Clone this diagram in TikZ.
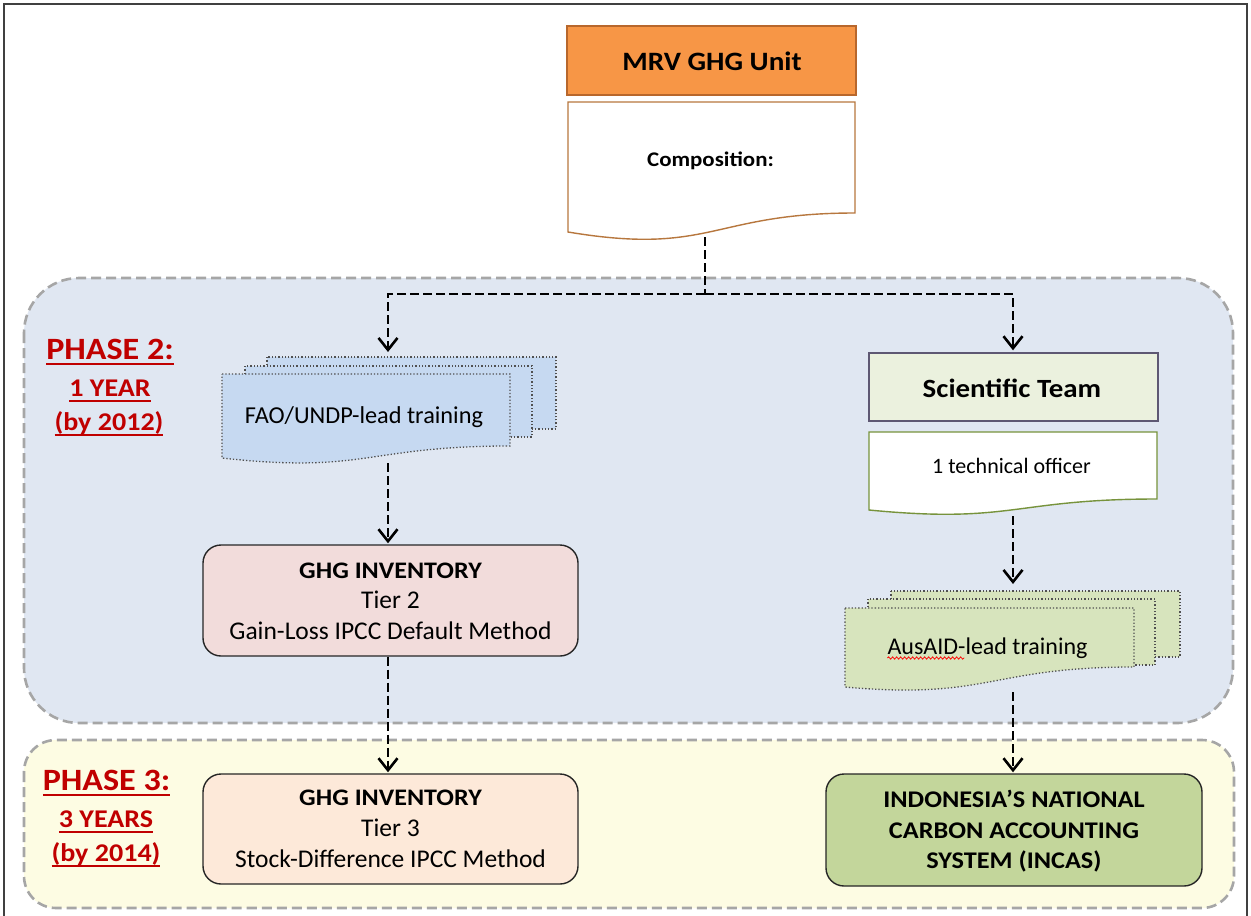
\documentclass[tikz,border=0pt]{standalone}
\usepackage{fontspec}
\setmainfont{Carlito}[BoldFeatures={FakeStretch=1.1}]
\usetikzlibrary{arrows.meta,calc,decorations.pathmorphing}

\definecolor{frameline}{HTML}{404040}
\definecolor{phaseline}{HTML}{A6A6A6}
\definecolor{phasetwo}{HTML}{E0E7F2}
\definecolor{phasethree}{HTML}{FDFCE3}
\definecolor{phasered}{HTML}{C00000}
\definecolor{mrvfill}{HTML}{F79646}
\definecolor{mrvline}{HTML}{B8672C}
\definecolor{compline}{HTML}{B7773E}
\definecolor{faofill}{HTML}{C6D9F1}
\definecolor{ausfill}{HTML}{D7E4BD}
\definecolor{scifill}{HTML}{EBF1DE}
\definecolor{sciline}{HTML}{5E5873}
\definecolor{techline}{HTML}{77933C}
\definecolor{tiertwo}{HTML}{F2DCDB}
\definecolor{tierthree}{HTML}{FDE9D9}
\definecolor{incasfill}{HTML}{C3D69B}
\definecolor{stackline}{HTML}{505050}

% document outline with a wavy bottom:
% #1 style, #2 left, #3 top, #4 right, #5 right bottom, #6 left bottom, #7 wave depth
\newcommand\drawdoc[7]{%
  \draw[#1] (#2,#3) -- (#4,#3) -- (#4,#5)
    .. controls ({(#2+#4)/2},#5) and ({(#2+#4)/2},#7) .. (#2,#6) -- cycle;}

\newcommand\fs[1]{\fontsize{#1}{#1}\selectfont}
% heavy underline for the phase headings
\newcommand\redline[1]{\setbox0\hbox{#1}\rlap{\rule[-6.4pt]{\wd0}{2.4pt}}\box0}

\begin{document}
\begin{tikzpicture}[x=1pt,y=-1pt,
  txt/.style={inner sep=0pt, anchor=base},
  box/.style={rectangle, inner sep=0pt},
  ghgbox/.style={box, draw=black!85, line width=1.4pt, rounded corners=18pt,
    minimum width=375pt, align=center},
  phasebox/.style={draw=phaseline, line width=2.6pt, dash pattern=on 10pt off 5pt},
  flow/.style={draw=black, line width=2.8pt, dash pattern=on 9pt off 4pt},
  flowarrow/.style={flow, -{Straight Barb[length=12pt,width=19pt,line width=2.6pt]}},
  stack/.style={draw=stackline, line width=1.3pt, dotted},
  phaselabel/.style={txt, text=phasered, font=\bfseries}
]
\useasboundingbox (0,0) rectangle (1251,916);
\fill[white] (0,0) rectangle (1251,916);

% page frame
\draw[frameline, line width=2.2pt] (4,916) -- (4,4) -- (1247,4) -- (1247,916);

% phase areas
\path[phasebox, fill=phasetwo, rounded corners=55pt] (24,278) rectangle (1233,723);
\path[phasebox, fill=phasethree, rounded corners=32pt] (24,740) rectangle (1234,908);

% phase labels
\node[phaselabel, font=\bfseries\fs{31}] (p2a) at (110,359) {\redline{PHASE 2:}};
\node[phaselabel, font=\bfseries\fs{25.5}] (p2b) at (110,396) {\redline{1 YEAR}};
\node[phaselabel, font=\bfseries\fs{25.5}] (p2c) at (109,430) {\redline{(by 2012)}};
\node[phaselabel, font=\bfseries\fs{31}] (p3a) at (106.5,790) {\redline{PHASE 3:}};
\node[phaselabel, font=\bfseries\fs{25.5}] (p3b) at (106,827) {\redline{3 YEARS}};
\node[phaselabel, font=\bfseries\fs{25.5}] (p3c) at (106,861) {\redline{(by 2014)}};

% MRV GHG unit and its composition sheet
\node[box, draw=mrvline, fill=mrvfill, line width=1.4pt,
  minimum width=289pt, minimum height=69pt] (mrv) at (711.5,60.5) {};
\node[txt, font=\bfseries\fs{26.5}] (mrvt) at (712,70) {MRV GHG Unit};
\drawdoc{draw=compline, fill=white, line width=1.4pt}{568}{102}{855}{213}{232}{256}
\node[txt, font=\bfseries\fs{20.8}] (comp) at (710.5,166) {Composition:};
\coordinate (compout) at (705,237);
\coordinate (split) at (705,294);

% FAO/UNDP training stack
\fill[faofill, stack] (267,357) rectangle (556,429);
\fill[faofill, stack] (245,366) rectangle (532,437);
\drawdoc{stack, fill=faofill}{222}{374}{510}{446}{458}{474}
\node[txt, font=\fs{24.3}] (fao) at (364,423) {FAO/UNDP-lead training};
\coordinate (faoin) at (388,352);
\coordinate (faoout) at (388,463);

% GHG inventories
\node[ghgbox, fill=tiertwo, minimum height=111pt] (tier2) at (390.5,600.5) {};
\node[txt, font=\bfseries\fs{23.7}] (t2a) at (390.5,578) {GHG INVENTORY};
\node[txt, font=\fs{25.5}] (t2b) at (390.5,608) {Tier 2};
\node[txt, font=\fs{25.5}] (t2c) at (390.5,639) {Gain-Loss IPCC Default Method};

\node[ghgbox, fill=tierthree, minimum height=110pt] (tier3) at (390.5,829) {};
\node[txt, font=\bfseries\fs{23.7}] (t3a) at (390.5,805) {GHG INVENTORY};
\node[txt, font=\fs{25.5}] (t3b) at (390.5,836) {Tier 3};
\node[txt, font=\fs{25.5}] (t3c) at (390.5,867) {Stock-Difference IPCC Method};

% scientific team and its officer sheet
\node[box, draw=sciline, fill=scifill, line width=1.4pt,
  minimum width=289pt, minimum height=68pt] (sci) at (1013.5,387) {};
\node[txt, font=\bfseries\fs{26.3}] (scit) at (1012,397) {Scientific Team};
\drawdoc{draw=techline, fill=white, line width=1.4pt}{869}{432}{1157}{499}{510}{524}
\node[txt, font=\fs{22}] (tech) at (1011.5,473) {1 technical officer};
\coordinate (techout) at (1013,516);

% AusAID training stack
\fill[ausfill, stack] (891,591) rectangle (1180,657);
\fill[ausfill, stack] (868,599) rectangle (1155,665);
\drawdoc{stack, fill=ausfill}{845}{608}{1134}{667}{687}{700}
\node[txt, font=\fs{24}] (aus) at (987.5,654) {AusAID-lead training};
\draw[red, line width=0.8pt, decorate,
  decoration={snake, amplitude=1.1pt, segment length=4pt}]
  ($(aus.base west)+(0,4)$) -- ++(77,0);
\coordinate (ausin) at (1013,584);
\coordinate (ausout) at (1013,692);

% INCAS
\node[ghgbox, fill=incasfill, minimum width=376pt, minimum height=112pt] (incas) at (1014,830) {};
\node[txt, font=\bfseries\fs{23.9}] (in1) at (1014,807) {INDONESIA’S NATIONAL};
\node[txt, font=\bfseries\fs{23.9}] (in2) at (1014,838) {CARBON ACCOUNTING};
\node[txt, font=\bfseries\fs{23.9}] (in3) at (1014,868) {SYSTEM (INCAS)};

% connectors
\draw[flow] (compout) -- (split);
\draw[flowarrow] (split) -| (faoin);
\draw[flowarrow] (split) -| ($(sci.north)+(-0.5,-2)$);
\draw[flowarrow] (faoout) -- ($(tier2.north)+(-2.5,-1)$);
\draw[flowarrow] ($(tier2.south)+(-2.5,0)$) -- ($(tier3.north)+(-2.5,-1)$);
\draw[flowarrow] (techout) -- (ausin);
\draw[flowarrow] (ausout) -- ($(incas.north)+(-1,-1)$);
\end{tikzpicture}
\end{document}
